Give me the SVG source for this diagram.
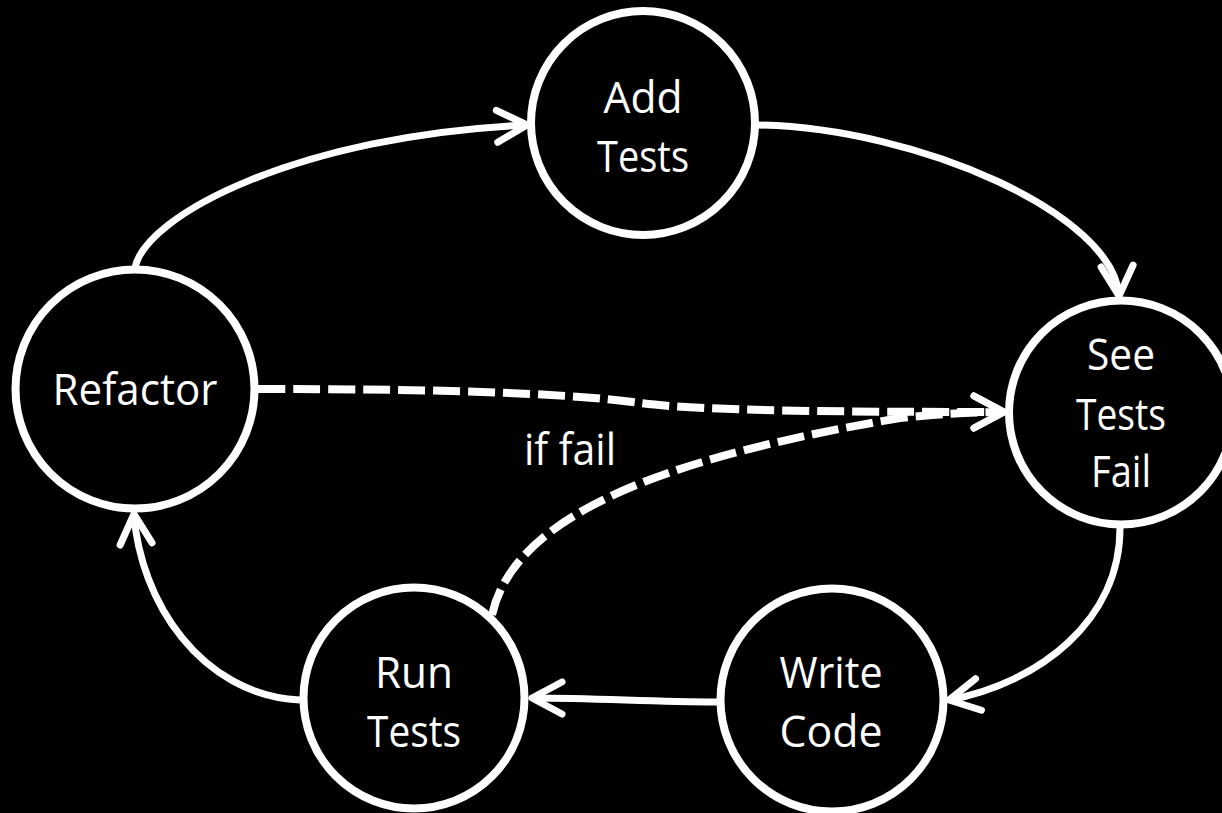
<svg xmlns="http://www.w3.org/2000/svg" width="1222" height="813" viewBox="0 0 1222 813">
  <style>
    .node { fill: #000; stroke: #fff; stroke-width: 8; }
    .label { fill: #fff; font-family: "Open Sans", "Liberation Sans", sans-serif; font-size: 44px; font-weight: 400; text-anchor: middle; }
    .edge { fill: none; stroke: #fff; stroke-width: 7; }
    .dashed { stroke-width: 8; stroke-dasharray: 27 8; }
    .head { fill: none; stroke: #fff; stroke-width: 7; stroke-linecap: round; stroke-linejoin: round; stroke-dasharray: none; }
  </style>
  <defs>
    <marker id="arrow" markerUnits="userSpaceOnUse" markerWidth="40" markerHeight="40" refX="0" refY="0" orient="auto" overflow="visible">
      <path class="head" d="M-30,-16 L0,0 L-30,16"/>
    </marker>
  </defs>

  <rect width="1222" height="813" fill="#000"/>

  <!-- connectors -->
  <g id="connectors">
    <path id="refactor-to-add" class="edge" d="M135,268 C145,215 300,135 527,125" marker-end="url(#arrow)"/>
    <path id="add-to-see" class="edge" d="M758,125 C920,128 1114,215 1119,296" marker-end="url(#arrow)"/>
    <path id="see-to-write" class="edge" d="M1120,528 C1120,620 1040,683 949,700" marker-end="url(#arrow)"/>
    <path id="write-to-run" class="edge" d="M717,702 C650,702 600,698 532,698" marker-end="url(#arrow)"/>
    <path id="run-to-refactor" class="edge" d="M300,700 C200,695 140,600 134,514" marker-end="url(#arrow)"/>
    <path id="refactor-to-see" class="edge dashed" d="M258,389 C420,389 560,392 640,403 C700,411 850,412 1004,412" marker-end="url(#arrow)"/>
    <path id="run-to-see" class="edge dashed" d="M492,615 C515,510 680,455 900,418 Q960,412 1004,412" marker-end="url(#arrow)"/>
    <text class="label" x="570" y="465" textLength="92" lengthAdjust="spacingAndGlyphs">if fail</text>
  </g>

  <!-- nodes -->
  <g id="add-tests">
    <circle class="node" cx="643" cy="123" r="112"/>
    <text class="label" x="643" y="113" textLength="79" lengthAdjust="spacingAndGlyphs">Add</text>
    <text class="label" x="643" y="172" textLength="92" lengthAdjust="spacingAndGlyphs">Tests</text>
  </g>

  <g id="see-tests-fail">
    <circle class="node" cx="1121" cy="412.5" r="112"/>
    <text class="label" x="1121" y="370" textLength="68" lengthAdjust="spacingAndGlyphs">See</text>
    <text class="label" x="1121" y="430" textLength="90" lengthAdjust="spacingAndGlyphs">Tests</text>
    <text class="label" x="1121" y="487" textLength="60" lengthAdjust="spacingAndGlyphs">Fail</text>
  </g>

  <g id="write-code">
    <circle class="node" cx="832" cy="700" r="111.5"/>
    <text class="label" x="831" y="688" textLength="103" lengthAdjust="spacingAndGlyphs">Write</text>
    <text class="label" x="831" y="747" textLength="103" lengthAdjust="spacingAndGlyphs">Code</text>
  </g>

  <g id="run-tests">
    <circle class="node" cx="414" cy="698" r="110.5"/>
    <text class="label" x="414" y="688" textLength="78" lengthAdjust="spacingAndGlyphs">Run</text>
    <text class="label" x="414" y="747" textLength="94" lengthAdjust="spacingAndGlyphs">Tests</text>
  </g>

  <g id="refactor">
    <circle class="node" cx="135" cy="389" r="119.5"/>
    <text class="label" x="135" y="405" textLength="165" lengthAdjust="spacingAndGlyphs">Refactor</text>
  </g>
</svg>
